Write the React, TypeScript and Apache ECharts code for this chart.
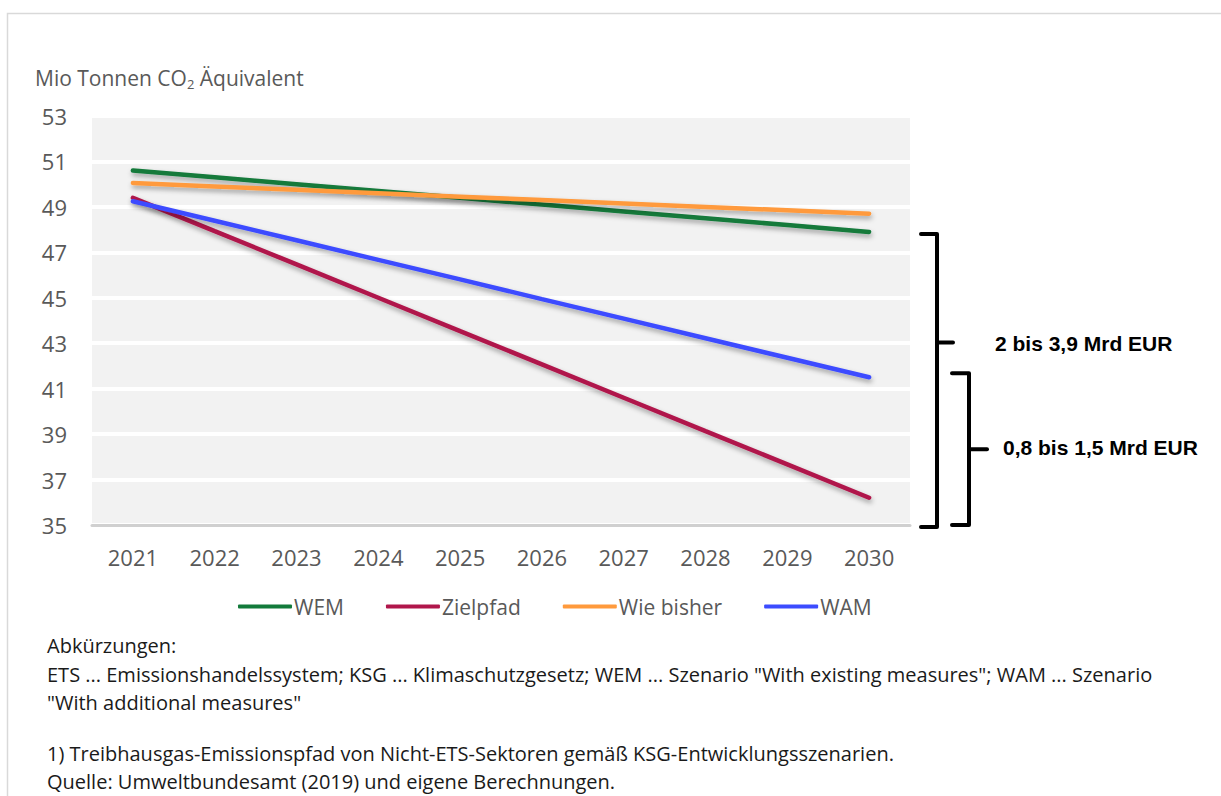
import React, { useEffect, useRef } from "react";
import * as echarts from "echarts";

const years = ["2021", "2022", "2023", "2024", "2025", "2026", "2027", "2028", "2029", "2030"];
const wem = [50.6, 50.3, 50.0, 49.7, 49.4, 49.1, 48.8, 48.5, 48.2, 47.9];
const zielpfad = [49.4, 47.93, 46.47, 45.0, 43.53, 42.07, 40.6, 39.13, 37.67, 36.2];
const wieBisher = [50.05, 49.9, 49.75, 49.6, 49.45, 49.3, 49.15, 49.0, 48.85, 48.7];
const wam = [49.25, 48.39, 47.53, 46.67, 45.81, 44.94, 44.08, 43.22, 42.36, 41.5];

const seriesNames = ["WEM", "Zielpfad", "Wie bisher", "WAM"];
const seriesColors = ["#137a3b", "#b0164b", "#ff9a3c", "#3c4cff"];

const bracketLabels = ["2 bis 3,9 Mrd EUR", "0,8 bis 1,5 Mrd EUR"];
const footerLines = [
  "Abkürzungen:",
  "ETS ... Emissionshandelssystem; KSG ... Klimaschutzgesetz; WEM ... Szenario \"With existing measures\"; WAM ... Szenario",
  "\"With additional measures\"",
  "1) Treibhausgas-Emissionspfad von Nicht-ETS-Sektoren gemäß KSG-Entwicklungsszenarien.",
  "Quelle: Umweltbundesamt (2019) und eigene Berechnungen.",
];
const footerY = [645, 674, 702, 753, 781];

const FONT = "'Open Sans', sans-serif";

export default function App() {
  const ref = useRef<HTMLDivElement>(null);
  useEffect(() => {
    document.body.style.margin = "0";
    const chart = echarts.init(ref.current!, null, { renderer: "svg" });
    const data = [wem, zielpfad, wieBisher, wam];
    chart.setOption({
      animation: false,
      backgroundColor: "#ffffff",
      textStyle: { fontFamily: FONT },
      grid: {
        left: 92,
        right: 311,
        top: 116,
        bottom: 271,
        show: true,
        backgroundColor: "#f2f2f2",
        borderWidth: 0,
      },
      legend: {
        top: 591,
        left: 233,
        itemWidth: 54,
        itemHeight: 4,
        itemGap: 42,
        icon: "roundRect",
        textStyle: { fontSize: 21, color: "#595959", fontFamily: FONT, padding: [0, 0, 0, -3] },
        data: seriesNames,
      },
      xAxis: {
        type: "category",
        data: years,
        boundaryGap: true,
        axisTick: { show: false },
        axisLine: { lineStyle: { color: "#d0d0d0", width: 3 } },
        axisLabel: { fontSize: 22, color: "#595959", margin: 21, fontFamily: FONT },
      },
      yAxis: {
        type: "value",
        min: 35,
        max: 53,
        interval: 2,
        axisLine: { show: false },
        axisTick: { show: false },
        axisLabel: { fontSize: 22, color: "#595959", margin: 25, fontFamily: FONT },
        splitLine: { lineStyle: { color: "#ffffff", width: 4 } },
      },
      series: seriesNames.map((name, i) => ({
        name,
        type: "line",
        data: data[i],
        symbol: "none",
        color: seriesColors[i],
        lineStyle: {
          width: 4.5,
          color: seriesColors[i],
          cap: "round",
          shadowColor: "rgba(0,0,0,0.35)",
          shadowBlur: 5,
          shadowOffsetY: 3,
          shadowOffsetX: 1,
        },
        z: 2 + i,
      })),
    });

    const yPix = (v: number) => chart.convertToPixel({ yAxisIndex: 0 }, v) as number;
    const bigTop = yPix(wem[wem.length - 1]);
    const bigBot = yPix(35) + 2;
    const smallTop = yPix(wam[wam.length - 1]) - 4;
    const smallBot = yPix(35);
    const bigMid = bigTop + (bigBot - bigTop) * 0.375;
    const smallMid = smallTop + (smallBot - smallTop) * 0.5;
    const bracketStyle = { stroke: "#000", lineWidth: 4, fill: "none", lineJoin: "round", lineCap: "round" };

    chart.setOption({
      graphic: [
        {
          type: "rect",
          shape: { x: 7.5, y: 13.5, width: 1240, height: 900 },
          style: { fill: "none", stroke: "#d9d9d9", lineWidth: 1.5 },
          silent: true,
        },
        {
          type: "text",
          left: 35,
          top: 67,
          style: {
            text: "Mio Tonnen CO{sub|2} Äquivalent",
            font: `21px ${FONT}`,
            fill: "#595959",
            rich: {
              sub: { fontSize: 13, fill: "#595959", fontFamily: FONT, padding: [12, 0, 0, 0] },
            },
          },
        },
        {
          type: "polyline",
          shape: { points: [[921, bigTop + 2], [937, bigTop + 2], [937, bigBot], [921, bigBot]] },
          style: bracketStyle,
        },
        { type: "line", shape: { x1: 937, y1: bigMid, x2: 953, y2: bigMid }, style: bracketStyle },
        {
          type: "polyline",
          shape: { points: [[952, smallTop], [969, smallTop], [969, smallBot], [952, smallBot]] },
          style: bracketStyle,
        },
        { type: "line", shape: { x1: 969, y1: smallMid, x2: 987, y2: smallMid }, style: bracketStyle },
        {
          type: "text",
          x: 995,
          y: bigMid + 1,
          style: {
            text: bracketLabels[0],
            font: "bold 21px 'Liberation Sans', Arial, sans-serif",
            fill: "#000",
            verticalAlign: "middle",
          },
        },
        {
          type: "text",
          x: 1003,
          y: smallMid - 2,
          style: {
            text: bracketLabels[1],
            font: "bold 21px 'Liberation Sans', Arial, sans-serif",
            fill: "#000",
            verticalAlign: "middle",
          },
        },
        ...footerLines.map((t, i) => ({
          type: "text",
          x: 47,
          y: footerY[i],
          style: { text: t, font: `20px ${FONT}`, fill: "#1a1a1a", verticalAlign: "middle" },
        })),
      ],
    });
    return () => chart.dispose();
  }, []);
  return <div ref={ref} style={{ width: 1221, height: 796 }} />;
}
